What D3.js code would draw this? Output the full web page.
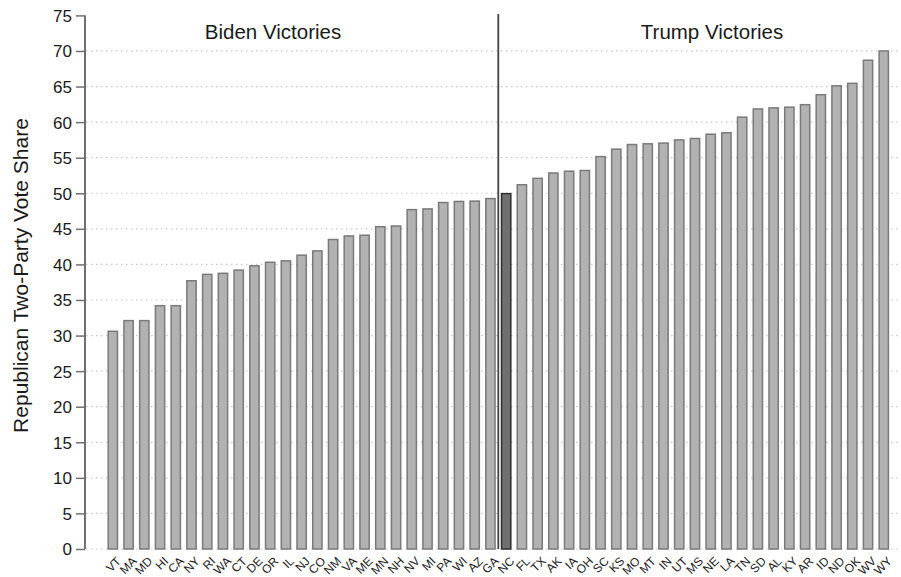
<!DOCTYPE html>
<html>
<head>
<meta charset="utf-8">
<script src="https://cdn.jsdelivr.net/npm/d3@7"></script>
<style>
  html, body { margin: 0; padding: 0; background: #fff; }
  svg { display: block; font-family: "Liberation Sans", Arial, Helvetica, sans-serif; }
</style>
</head>
<body>
<svg id="chart" width="901" height="577"></svg>
<script>
const states = ["VT","MA","MD","HI","CA","NY","RI","WA","CT","DE","OR","IL","NJ","CO","NM","VA","ME","MN","NH","NV","MI","PA","WI","AZ","GA",
                "NC","FL","TX","AK","IA","OH","SC","KS","MO","MT","IN","UT","MS","NE","LA","TN","SD","AL","KY","AR","ID","ND","OK","WV","WY"];
const voteShare = [30.6,32.1,32.1,34.2,34.2,37.7,38.6,38.75,39.2,39.8,40.3,40.5,41.3,41.9,43.5,44.0,44.1,45.3,45.4,47.7,47.8,48.7,48.85,48.9,49.25,
                   49.95,51.2,52.1,52.85,53.1,53.2,55.15,56.2,56.85,56.95,57.05,57.5,57.7,58.3,58.5,60.7,61.85,62.0,62.1,62.45,63.85,65.1,65.45,68.7,70.0];
const highlight = ["NC"];
const yTicks = [0,5,10,15,20,25,30,35,40,45,50,55,60,65,70,75];
const groupLabels = ["Biden Victories", "Trump Victories"];
const splitAfter = "GA";
const yTitle = "Republican Two-Party Vote Share";

const svg = d3.select("#chart");
const W = 901, H = 577;

const y = d3.scaleLinear().domain([0, 75]).range([549, 15.4]);
const x = d3.scaleBand().domain(states).range([84.6, 912]).paddingInner(0.41).paddingOuter(1.5);

// gridlines
svg.append("g").selectAll("line")
  .data(yTicks.filter(t => t < 75))
  .join("line")
  .attr("x1", 86).attr("x2", W)
  .attr("y1", d => y(d)).attr("y2", d => y(d))
  .attr("stroke", "#c8c8c8").attr("stroke-width", 1.2)
  .attr("stroke-dasharray", "1.5,3.5");

// y axis
const yAxis = d3.axisLeft(y).tickValues(yTicks).tickSize(9).tickPadding(4).tickFormat(d3.format("d"));
const gy = svg.append("g").attr("transform", "translate(85,0)").call(yAxis);
gy.select(".domain").attr("stroke", "#707070").attr("stroke-width", 2).attr("d", `M0,${y(75)}V${y(0)}`);
gy.selectAll(".tick line").attr("stroke", "#707070").attr("stroke-width", 1.5);
gy.selectAll(".tick text").attr("fill", "#1a1a1a").style("font-size", "17px").attr("dy", "0.35em");

// bars
svg.append("g").selectAll("rect")
  .data(states.map((s, i) => ({s, v: voteShare[i]})))
  .join("rect")
  .attr("x", d => x(d.s))
  .attr("width", x.bandwidth())
  .attr("y", d => y(d.v))
  .attr("height", d => y(0) - y(d.v))
  .attr("fill", d => highlight.includes(d.s) ? "#707070" : "#b2b2b2")
  .attr("stroke", d => highlight.includes(d.s) ? "#2e2e2e" : "#7a7a7a")
  .attr("stroke-width", 1.5);

// x labels
svg.append("g").selectAll("text")
  .data(states)
  .join("text")
  .attr("transform", d => `translate(${x(d) + x.bandwidth()/2 + 3},${556}) rotate(-45)`)
  .attr("text-anchor", "end")
  .attr("dy", "0.7em")
  .style("font-size", "12px")
  .attr("fill", "#222")
  .text(d => d);

// separator
const sIdx = states.indexOf(splitAfter);
const sepX = (x(states[sIdx]) + x.bandwidth() + x(states[sIdx + 1])) / 2;
svg.append("line")
  .attr("x1", sepX).attr("x2", sepX)
  .attr("y1", 14).attr("y2", y(0))
  .attr("stroke", "#444").attr("stroke-width", 1.8);

// group labels
svg.append("text").attr("x", 273).attr("y", 39).attr("text-anchor", "middle")
  .style("font-size", "20.5px").attr("fill", "#1a1a1a").text(groupLabels[0]);
svg.append("text").attr("x", 712).attr("y", 39).attr("text-anchor", "middle")
  .style("font-size", "20.5px").attr("fill", "#1a1a1a").text(groupLabels[1]);

// y title
svg.append("text")
  .attr("transform", `translate(28,275.5) rotate(-90)`)
  .attr("text-anchor", "middle")
  .style("font-size", "21px").attr("fill", "#1a1a1a")
  .text(yTitle);
</script>
</body>
</html>
